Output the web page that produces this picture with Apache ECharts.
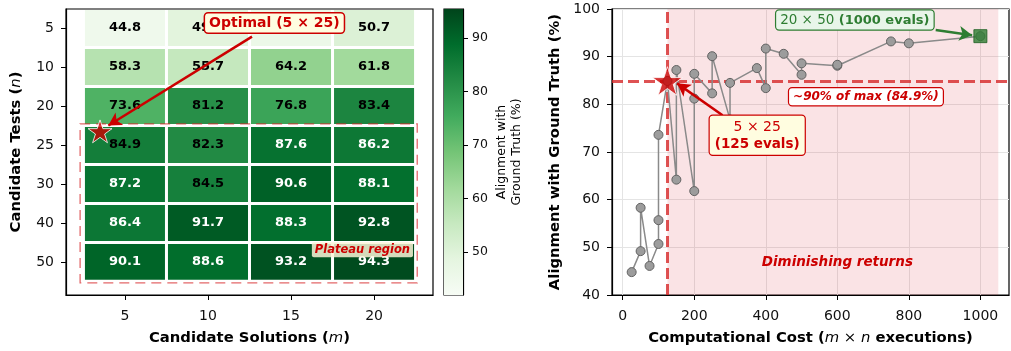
<!DOCTYPE html>
<html>
<head>
<meta charset="utf-8">
<script src="https://cdn.jsdelivr.net/npm/echarts@6/dist/echarts.min.js"></script>
<style>
  html, body { margin: 0; padding: 0; background: #fff; }
  #chart { width: 1011px; height: 351px; }
</style>
</head>
<body>
<div id="chart"></div>
<script>
// candidate solutions (m) = columns, candidate tests (n) = rows
var solutions = [5, 10, 15, 20];
var tests = [5, 10, 20, 25, 30, 40, 50];

// alignment with ground truth (%), one array per row of n
var row_n5  = [44.8, 49.2, 46.1, 50.7];
var row_n10 = [58.3, 55.7, 64.2, 61.8];
var row_n20 = [73.6, 81.2, 76.8, 83.4];
var row_n25 = [84.9, 82.3, 87.6, 86.2];
var row_n30 = [87.2, 84.5, 90.6, 88.1];
var row_n40 = [86.4, 91.7, 88.3, 92.8];
var row_n50 = [90.1, 88.6, 93.2, 94.3];
var rows = [row_n5, row_n10, row_n20, row_n25, row_n30, row_n40, row_n50];

var cbTicks = [50, 60, 70, 80, 90];
var costTicks = [0, 200, 400, 600, 800, 1000];
var cbMin = 42, cbMax = 95.4;
var optM = 5, optN = 25;          // chosen config
var thresholdPct = 84.9;          // ~90% of max
var spanEnd = 1050;               // end of shaded region

// matplotlib Greens
var greens = ['#f7fcf5', '#e5f5e0', '#c7e9c0', '#a1d99b', '#74c476', '#41ab5d', '#238b45', '#006d2c', '#00441b'];

var FONT = '"DejaVu Sans", sans-serif';
var RED = '#cc0000';

// heatmap cells [col, row, value]
var cells = [];
rows.forEach(function (r, j) {
  r.forEach(function (v, i) { cells.push([i, j, v]); });
});

// cost vs alignment, sorted by cost (stable)
var pts = [];
rows.forEach(function (r, j) {
  r.forEach(function (v, i) { pts.push([solutions[i] * tests[j], v]); });
});
pts.sort(function (a, b) { return a[0] - b[0]; });

var optI = solutions.indexOf(optM), optJ = tests.indexOf(optN);
var optVal = rows[optJ][optI];
var optCost = optM * optN;
var maxCost = solutions[3] * tests[6];
var maxVal = rows[6][3];

function renderCell(params, api) {
  var i = api.value(0), j = api.value(1), v = api.value(2);
  var p0 = api.coord([i - 0.5, j - 0.5]);
  var p1 = api.coord([i + 0.5, j + 0.5]);
  var x = Math.min(p0[0], p1[0]), y = Math.min(p0[1], p1[1]);
  var w = Math.abs(p1[0] - p0[0]), h = Math.abs(p1[1] - p0[1]);
  return {
    type: 'group',
    children: [
      { type: 'rect', shape: { x: x + 1.5, y: y + 1.5, width: w - 3, height: h - 3 },
        style: { fill: api.visual('color') } },
      { type: 'text', z2: 10,
        style: { text: v.toFixed(1), x: x + w / 2, y: y + h / 2, align: 'center', verticalAlign: 'middle',
                 fill: v > 85 ? '#fff' : '#000', fontSize: 13, fontWeight: 'bold', fontFamily: FONT } }
    ]
  };
}

function renderBar(params, api) {
  var p0 = api.coord([0, api.value(1)]);
  var p1 = api.coord([1, api.value(2)]);
  var stops = greens.map(function (c, k) { return { offset: k / (greens.length - 1), color: c }; });
  return {
    type: 'rect',
    shape: { x: p0[0], y: p1[1], width: p1[0] - p0[0], height: p0[1] - p1[1] },
    style: { fill: new echarts.graphic.LinearGradient(0, 1, 0, 0, stops) }
  };
}

var starPath = 'path://M0,-10L2.24,-3.09L9.51,-3.09L3.63,1.18L5.88,8.09L0,3.82L-5.88,8.09L-3.63,1.18L-9.51,-3.09L-2.24,-3.09Z';

var tickLabel = { color: '#111', fontSize: 14, fontFamily: FONT };
var boldName = { fontWeight: 'bold', fontSize: 14.8, color: '#000', fontFamily: FONT };
var italName = { fontStyle: 'italic', fontSize: 14.8, color: '#000', fontFamily: FONT };
var plainName = { fontSize: 14.8, color: '#000', fontFamily: FONT };
var blackLine = { show: true, onZero: false, lineStyle: { color: '#000', width: 1.2 } };
var outTick = { show: true, inside: false, length: 5, lineStyle: { color: '#000', width: 1 } };

var option = {
  animation: false,
  textStyle: { fontFamily: FONT },
  grid: [
    { left: 66, top: 9, width: 367, height: 286, show: true, borderColor: '#000', borderWidth: 1.2, backgroundColor: '#fff' },
    { left: 444, top: 9, width: 19, height: 286, show: true, borderColor: '#000', borderWidth: 1.2 },
    { left: 612, top: 9, width: 397, height: 286, show: true, borderColor: '#000', borderWidth: 1.2 }
  ],
  visualMap: {
    type: 'continuous', show: false, min: cbMin, max: cbMax, dimension: 2, seriesIndex: 0,
    inRange: { color: greens }
  },
  xAxis: [
    { gridIndex: 0, type: 'value', min: -0.71, max: 3.71,
      axisLine: blackLine, splitLine: { show: false },
      axisTick: Object.assign({ customValues: [0, 1, 2, 3] }, outTick),
      axisLabel: Object.assign({ customValues: [0, 1, 2, 3], margin: 14,
        formatter: function (v) { return String(solutions[Math.round(v)]); } }, tickLabel),
      name: '{b|Candidate Solutions (}{i|m}{b|)}', nameLocation: 'middle', nameGap: 36,
      nameTextStyle: { rich: { b: boldName, i: italName } } },
    { gridIndex: 1, type: 'value', min: 0, max: 1, show: false },
    { gridIndex: 2, type: 'value', min: -30, max: 1080,
      axisLine: blackLine,
      splitLine: { show: true, lineStyle: { color: '#e4e4e4', width: 1 } },
      axisTick: Object.assign({ customValues: costTicks }, outTick),
      axisLabel: Object.assign({ customValues: costTicks, margin: 14,
        formatter: function (v) { return String(v); } }, tickLabel),
      name: '{b|Computational Cost (}{i|m}{r| × }{i|n}{b| executions)}', nameLocation: 'middle', nameGap: 36,
      nameTextStyle: { rich: { b: boldName, i: italName, r: plainName } } }
  ],
  yAxis: [
    { gridIndex: 0, type: 'value', inverse: true, min: -0.49, max: 6.85,
      axisLine: blackLine, splitLine: { show: false },
      axisTick: Object.assign({ customValues: [0, 1, 2, 3, 4, 5, 6] }, outTick),
      axisLabel: Object.assign({ customValues: [0, 1, 2, 3, 4, 5, 6], margin: 12,
        formatter: function (v) { return String(tests[Math.round(v)]); } }, tickLabel),
      name: '{b|Candidate Tests (}{i|n}{b|)}', nameLocation: 'middle', nameGap: 42,
      nameTextStyle: { rich: { b: boldName, i: italName } } },
    { gridIndex: 1, type: 'value', position: 'right', min: cbMin, max: cbMax,
      axisLine: blackLine, splitLine: { show: false },
      axisTick: Object.assign({ customValues: cbTicks }, outTick),
      axisLabel: Object.assign({ customValues: cbTicks, margin: 9 }, tickLabel, { fontSize: 12.5 }),
      name: 'Alignment with\nGround Truth (%)', nameLocation: 'middle', nameGap: 31, nameRotate: 90,
      nameTextStyle: { fontSize: 12.5, color: '#000', lineHeight: 15, fontFamily: FONT } },
    { gridIndex: 2, type: 'value', min: 40, max: 100, interval: 10,
      axisLine: blackLine,
      splitLine: { show: true, lineStyle: { color: '#e4e4e4', width: 1 } },
      axisTick: outTick,
      axisLabel: Object.assign({ margin: 12 }, tickLabel),
      name: 'Alignment with Ground Truth (%)', nameLocation: 'middle', nameGap: 49,
      nameTextStyle: boldName }
  ],
  series: [
    // heatmap cells
    { type: 'custom', xAxisIndex: 0, yAxisIndex: 0, renderItem: renderCell, data: cells, z: 2,
      encode: { x: 0, y: 1 } },
    // colorbar
    { type: 'custom', xAxisIndex: 1, yAxisIndex: 1, renderItem: renderBar, data: [[0.5, cbMin, cbMax]],
      encode: { x: 0, y: [1, 2] } },
    // left star + annotations
    { type: 'scatter', xAxisIndex: 0, yAxisIndex: 0, z: 10,
      data: [[optI - 0.3, optJ - 0.35]],
      symbol: starPath, symbolSize: 24, symbolKeepAspect: true,
      itemStyle: { color: RED, borderColor: '#fff', borderWidth: 1 },
      markArea: {
        silent: true, z: 3,
        itemStyle: { color: 'rgba(0,0,0,0)', borderColor: 'rgba(214,39,40,0.7)', borderWidth: 1.3, borderType: [10, 6] },
        data: [[{ coord: [-0.54, 2.46] }, { coord: [3.52, 6.54] }]]
      },
      markLine: {
        silent: true, z: 8, symbol: ['none', 'arrow'], symbolSize: [11, 13],
        label: { show: false },
        lineStyle: { color: RED, width: 2.5, type: 'solid' },
        data: [[{ coord: [1.53, 0.22] }, { coord: [-0.2, 2.5] }]]
      },
      markPoint: {
        silent: true, z: 12, symbol: 'rect', symbolSize: 0,
        data: [
          { coord: [1.8, -0.13], label: { show: true, position: 'inside',
            formatter: 'Optimal (5 × 25)',
            color: RED, fontWeight: 'bold', fontSize: 14, fontFamily: FONT,
            backgroundColor: '#fffde0', borderColor: RED, borderWidth: 1.5, borderRadius: 3, padding: [3, 4, 2, 4] } },
          { coord: [2.86, 5.69], label: { show: true, position: 'inside',
            formatter: 'Plateau region',
            color: RED, fontWeight: 'bold', fontStyle: 'italic', fontSize: 11.5, fontFamily: FONT,
            backgroundColor: 'rgba(250,244,215,0.85)', borderRadius: 2, padding: [2, 3, 1, 3] } }
        ]
      } },
    // cost vs alignment
    { type: 'line', xAxisIndex: 2, yAxisIndex: 2, z: 10, data: pts,
      symbol: 'circle', symbolSize: 9, showAllSymbol: true,
      lineStyle: { color: '#8a8a8a', width: 1.5 },
      itemStyle: { color: '#9c9c9c', borderColor: '#616161', borderWidth: 1 },
      markArea: {
        silent: true, z: 1,
        itemStyle: { color: 'rgba(220,40,55,0.13)' },
        data: [[{ coord: [optCost, 40] }, { coord: [spanEnd, 100] }]]
      },
      markLine: {
        silent: true, z: 5, symbol: 'none',
        label: { show: false },
        lineStyle: { color: 'rgba(214,39,40,0.8)', width: 3, type: [11, 5] },
        data: [{ xAxis: optCost }, { yAxis: thresholdPct }]
      } },
    // star at chosen config
    { type: 'scatter', xAxisIndex: 2, yAxisIndex: 2, z: 12,
      data: [[optCost, optVal]],
      symbol: starPath, symbolSize: 30, symbolKeepAspect: true,
      itemStyle: { color: RED, borderColor: '#fff', borderWidth: 1 },
      markLine: {
        silent: true, z: 14, symbol: ['none', 'arrow'], symbolSize: [11, 13],
        label: { show: false },
        data: [
          [{ coord: [279, 77.7] }, { coord: [152, 84.4] }],
          [{ coord: [875, 95.6], lineStyle: { color: '#2e7d32' } }, { coord: [977, 94.5] }]
        ],
        lineStyle: { color: RED, width: 2.5, type: 'solid' }
      },
      markPoint: {
        silent: true, z: 16, symbol: 'rect', symbolSize: 0,
        data: [
          { coord: [649, 97.7], label: { show: true, position: 'inside',
            formatter: '{n|20 × 50 }{b|(1000 evals)}',
            backgroundColor: '#e8f5e9', borderColor: '#2e7d32', borderWidth: 1.2, borderRadius: 3, padding: [3, 4, 2, 4],
            rich: { n: { color: '#2e7d32', fontSize: 13.5, fontFamily: FONT },
                    b: { color: '#2e7d32', fontSize: 13, fontWeight: 'bold', fontFamily: FONT } } } },
          { coord: [680, 81.6], label: { show: true, position: 'inside',
            formatter: '~90% of max (84.9%)',
            color: RED, fontWeight: 'bold', fontStyle: 'italic', fontSize: 12, fontFamily: FONT,
            backgroundColor: '#fff', borderColor: RED, borderWidth: 1.2, borderRadius: 3, padding: [3, 4, 2, 4] } },
          { coord: [376, 73.5], label: { show: true, position: 'inside',
            formatter: '{n|5 × 25}\n{b|(125 evals)}',
            backgroundColor: '#fffde0', borderColor: RED, borderWidth: 1.2, borderRadius: 3, padding: [3, 5, 2, 5],
            rich: { n: { color: RED, fontSize: 14, fontFamily: FONT, align: 'center', lineHeight: 17 },
                    b: { color: RED, fontSize: 13.5, fontWeight: 'bold', fontFamily: FONT, align: 'center', lineHeight: 17 } } } },
          { coord: [600, 46.9], label: { show: true, position: 'inside',
            formatter: 'Diminishing returns',
            color: RED, fontWeight: 'bold', fontStyle: 'italic', fontSize: 13.5, fontFamily: FONT } }
        ]
      } },
    // max config square
    { type: 'scatter', xAxisIndex: 2, yAxisIndex: 2, z: 12,
      data: [[maxCost, maxVal]],
      symbol: 'rect', symbolSize: 13,
      itemStyle: { color: '#2e7d32', borderColor: '#1b5e20', borderWidth: 1 } }
  ]
};

var chart = echarts.init(document.getElementById('chart'), null, { renderer: 'canvas' });
chart.setOption(option);
</script>
</body>
</html>
